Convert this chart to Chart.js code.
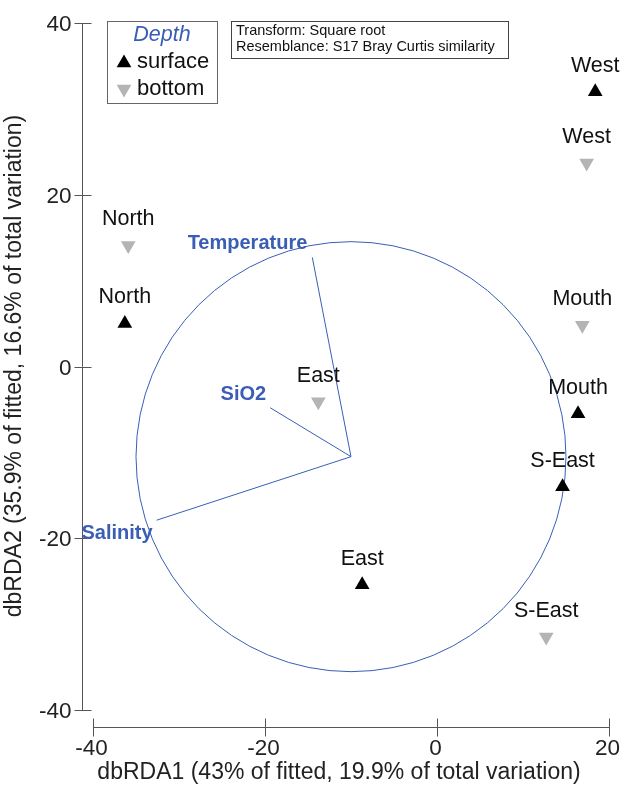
<!DOCTYPE html>
<html>
<head>
<meta charset="utf-8">
<script src="https://cdn.jsdelivr.net/npm/chart.js@4.4.0/dist/chart.umd.min.js"></script>
<style>
    body { margin: 0; background: #fff; }
    #wrap { position: relative; width: 627px; height: 785px; }
</style>
</head>
<body>
<div id="wrap"><canvas id="rda-plot"></canvas></div>
<script>
// site scores, surface samples
const surfaceSites = ['West', 'Mouth', 'S-East', 'East', 'North'];
const surfaceX = [18.4, 16.4, 14.6, -8.7, -36.3];
const surfaceY = [32.0, -5.5, -14.0, -25.4, 5.0];

// site scores, bottom samples
const bottomSites = ['West', 'Mouth', 'S-East', 'East', 'North'];
const bottomX = [17.4, 16.9, 12.7, -13.8, -35.9];
const bottomY = [23.7, 4.8, -31.5, -4.1, 14.1];

// predictor vectors, drawn from the circle centre
const vectorNames = ['Temperature', 'SiO2', 'Salinity'];
const vectorX = [-14.5, -19.4, -32.6];
const vectorY = [12.7, -4.8, -17.9];
const circleCentre = [-10.0, -10.5];
const circleRadius = 25;

const xTicks = [-40, -20, 0, 20];
const yTicks = [40, 20, 0, -20, -40];

const xTitle = 'dbRDA1 (43% of fitted, 19.9% of total variation)';
const yTitle = 'dbRDA2 (35.9% of fitted, 16.6% of total variation)';
const infoLines = ['Transform: Square root', 'Resemblance: S17 Bray Curtis similarity'];

const FONT = '"Liberation Sans", Arial, sans-serif';
const BLUE = '#3a5db5';
const AXIS = '#555';
const GREY = '#b4b4b4';

function toPoints(xs, ys) {
    let pts = [];
    for (let i = 0; i < xs.length; i++) pts.push({x: xs[i], y: ys[i]});
    return pts;
}

let datasets = [];
for (let i = 0; i < vectorNames.length; i++) {
    datasets.push({
        label: vectorNames[i],
        data: [{x: circleCentre[0], y: circleCentre[1]}, {x: vectorX[i], y: vectorY[i]}],
        showLine: true,
        borderColor: BLUE,
        borderWidth: 1,
        pointRadius: 0
    });
}
datasets.push({
    label: 'surface',
    data: toPoints(surfaceX, surfaceY),
    sites: surfaceSites,
    pointStyle: 'triangle',
    rotation: 0,
    pointRadius: 8.5,
    backgroundColor: '#000',
    borderWidth: 0
});
datasets.push({
    label: 'bottom',
    data: toPoints(bottomX, bottomY),
    sites: bottomSites,
    pointStyle: 'triangle',
    rotation: 180,
    pointRadius: 8.5,
    backgroundColor: GREY,
    borderWidth: 0
});

// circle + axes go under the marks
const underlay = {
    id: 'underlay',
    beforeDatasetsDraw(chart) {
        const ctx = chart.ctx;
        const xs = chart.scales.x, ys = chart.scales.y;
        const cx = xs.getPixelForValue(circleCentre[0]);
        const cy = ys.getPixelForValue(circleCentre[1]);
        const r = xs.getPixelForValue(circleCentre[0] + circleRadius) - cx;
        ctx.save();
        ctx.strokeStyle = BLUE;
        ctx.lineWidth = 1;
        ctx.beginPath();
        ctx.arc(cx, cy, r, 0, Math.PI * 2);
        ctx.stroke();

        // y axis
        const ax = Math.round(chart.chartArea.left) + 0.5;
        ctx.strokeStyle = AXIS;
        ctx.beginPath();
        ctx.moveTo(ax, ys.getPixelForValue(yTicks[0]));
        ctx.lineTo(ax, ys.getPixelForValue(yTicks[yTicks.length - 1]));
        ctx.stroke();
        ctx.fillStyle = '#222';
        ctx.font = '22.5px ' + FONT;
        ctx.textAlign = 'right';
        ctx.textBaseline = 'middle';
        for (const t of yTicks) {
            const py = Math.round(ys.getPixelForValue(t)) + 0.5;
            ctx.beginPath();
            ctx.moveTo(ax - 8, py);
            ctx.lineTo(ax + 9, py);
            ctx.stroke();
            ctx.fillText(String(t), ax - 11, py + 1);
        }

        // x axis
        const ay = Math.round(chart.chartArea.bottom) + 0.5;
        ctx.beginPath();
        ctx.moveTo(xs.getPixelForValue(xTicks[0]), ay);
        ctx.lineTo(xs.getPixelForValue(xTicks[xTicks.length - 1]), ay);
        ctx.stroke();
        ctx.textAlign = 'center';
        ctx.textBaseline = 'middle';
        for (const t of xTicks) {
            const px = Math.round(xs.getPixelForValue(t)) + 0.5;
            ctx.beginPath();
            ctx.moveTo(px, ay - 9);
            ctx.lineTo(px, ay + 9);
            ctx.stroke();
            ctx.fillText(String(t), px - 2, ay + 21);
        }

        // axis titles
        ctx.font = '23px ' + FONT;
        ctx.fillText(xTitle, 339, 773);
        ctx.translate(15, 366);
        ctx.rotate(-Math.PI / 2);
        ctx.fillText(yTitle, 0, 0);
        ctx.restore();
    }
};

// site names, vector names, legend and info box
const overlay = {
    id: 'overlay',
    afterDatasetsDraw(chart) {
        const ctx = chart.ctx;
        const xs = chart.scales.x, ys = chart.scales.y;
        ctx.save();
        ctx.fillStyle = '#111';
        ctx.font = '21.5px ' + FONT;
        ctx.textAlign = 'center';
        ctx.textBaseline = 'middle';
        chart.data.datasets.forEach(ds => {
            if (!ds.sites) return;
            ds.data.forEach((p, i) => {
                ctx.fillText(ds.sites[i], xs.getPixelForValue(p.x), ys.getPixelForValue(p.y) - 26);
            });
        });

        const offsets = {Temperature: [-5, -14], SiO2: [-4, -13], Salinity: [-4, 13]};
        ctx.fillStyle = BLUE;
        ctx.font = 'bold 20px ' + FONT;
        ctx.textAlign = 'right';
        vectorNames.forEach((name, i) => {
            const off = offsets[name];
            ctx.fillText(name, xs.getPixelForValue(vectorX[i]) + off[0], ys.getPixelForValue(vectorY[i]) + off[1]);
        });

        // legend
        ctx.strokeStyle = '#666';
        ctx.lineWidth = 1;
        ctx.strokeRect(107.5, 21.5, 110, 82);
        ctx.textAlign = 'center';
        ctx.font = 'italic 21.5px ' + FONT;
        ctx.fillText('Depth', 162, 35);
        ctx.font = '22px ' + FONT;
        ctx.textAlign = 'left';
        const legendRows = chart.data.datasets.filter(ds => ds.sites);
        legendRows.forEach((ds, i) => {
            const y = 62 + i * 27;
            ctx.fillStyle = ds.backgroundColor;
            Chart.helpers.drawPoint(ctx, {pointStyle: 'triangle', rotation: ds.rotation, radius: 8.5, borderWidth: 0}, 124, y + (i ? 0 : 1));
            ctx.fillStyle = '#111';
            ctx.fillText(ds.label, 137, y);
        });

        // info box
        ctx.strokeStyle = '#444';
        ctx.strokeRect(231.5, 21.5, 277, 37);
        ctx.fillStyle = '#111';
        ctx.font = '14.5px ' + FONT;
        infoLines.forEach((line, i) => ctx.fillText(line, 236, 31 + i * 16));
        ctx.restore();
    }
};

let ch = new Chart(document.getElementById('rda-plot').getContext('2d'), {
    type: 'scatter',
    data: {datasets: datasets},
    options: {
        responsive: true,
        maintainAspectRatio: false,
        animation: false,
        layout: {padding: {left: 82, right: 9, top: 15, bottom: 58}},
        scales: {
            x: {display: false, min: -41.279, max: 21.047},
            y: {display: false, min: -41.979, max: 40.931}
        },
        plugins: {
            legend: {display: false},
            tooltip: {enabled: false}
        }
    },
    plugins: [underlay, overlay]
});
</script>
</body>
</html>
